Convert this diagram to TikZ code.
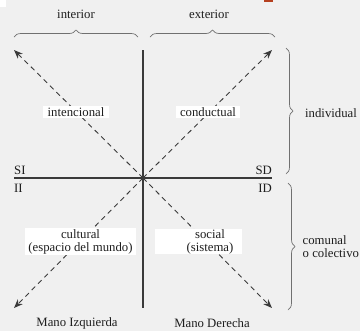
\documentclass[tikz,border=0pt]{standalone}
\usepackage{fontspec}
\setmainfont{Liberation Serif}
\usetikzlibrary{arrows.meta,decorations.pathreplacing}
\definecolor{bg}{HTML}{F0F0F0}
\definecolor{ink}{HTML}{1E1E1E}
\definecolor{axis}{HTML}{3A3A3A}
\definecolor{bracec}{HTML}{707070}
\definecolor{redmark}{HTML}{B5401F}
\tikzset{
  txt/.style={inner sep=0pt, text=ink, font=\fontsize{12.8}{13}\selectfont},
  lbl/.style={txt, fill=white, inner xsep=2bp, inner ysep=1.5bp, align=center},
  axisline/.style={draw=axis, line width=1.1bp},
  diag/.style={draw=axis, line width=0.9bp, dash pattern=on 5bp off 4bp, -{Stealth[length=9bp,width=7bp]}},
  brc/.style={draw=bracec, line width=0.7bp, decorate, decoration={brace, amplitude=7bp}},
}
\begin{document}
\begin{tikzpicture}[x=1bp,y=-1bp]
\useasboundingbox (0,0) rectangle (360,331);
\fill[bg] (0,0) rectangle (360,331);
\fill[white] (0,0) rectangle (6,7);
\fill[redmark] (264,0) rectangle (273,2);
% axes
\coordinate (C) at (143,178);
\coordinate (T) at (143,50);
\coordinate (B) at (143,308);
\coordinate (L) at (14,178);
\coordinate (R) at (272,178);
\draw[axisline] (T) -- (B);
\draw[axisline] (L) -- (R);
% diagonal arrows
\coordinate (UL) at (14,50);
\coordinate (UR) at (272,50);
\coordinate (LL) at (14,308);
\coordinate (LR) at (272,308);
\draw[diag] (C) -- (UL);
\draw[diag] (C) -- (UR);
\draw[diag] (C) -- (LL);
\draw[diag] (C) -- (LR);
% quadrant labels
\node[lbl, minimum width=65bp] (int) at (76,112) {intencional};
\node[lbl, minimum width=63bp] (con) at (208,112) {conductual};
\node[lbl, minimum width=111bp] (cul) at (80.5,241.5) {cultural\\(espacio del mundo)};
\fill[white] (155,229) rectangle (242,254);
\node[txt, align=center] (soc) at (210,241.5) {social\\(sistema)};
% corner labels
\node[txt, anchor=west] (si) at (14,170) {SI};
\node[txt, anchor=east] (sd) at (272,170) {SD};
\node[txt, anchor=west] (ii) at (14,188) {II};
\node[txt, anchor=east] (id) at (272,188) {ID};
% top braces
\coordinate (b1a) at (14,37);
\coordinate (b1b) at (138,37);
\coordinate (b2a) at (150,37);
\coordinate (b2b) at (275,37);
\draw[brc] (b1a) -- (b1b);
\draw[brc] (b2a) -- (b2b);
\node[txt] (interior) at (76,14) {interior};
\node[txt] (exterior) at (209,14) {exterior};
% right braces
\coordinate (r1a) at (286,48);
\coordinate (r1b) at (286,174);
\coordinate (r2a) at (288,183);
\coordinate (r2b) at (288,310);
\draw[brc] (r1a) -- (r1b);
\draw[brc] (r2a) -- (r2b);
\node[txt, anchor=west] (indiv) at (305,113) {individual};
\node[txt, anchor=west, align=left] (comun) at (302.5,247) {comunal\\o colectivo};
% bottom labels
\node[txt] (mi) at (77,323) {Mano Izquierda};
\node[txt] (md) at (212,323) {Mano Derecha};
\end{tikzpicture}
\end{document}
